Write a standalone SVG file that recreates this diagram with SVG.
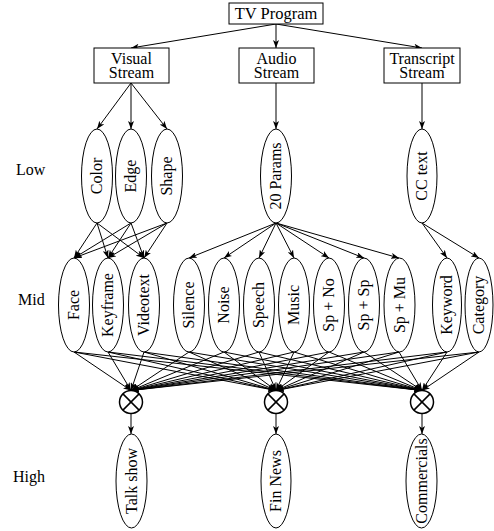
<svg xmlns="http://www.w3.org/2000/svg" width="494" height="531" viewBox="0 0 494 531">
<style>
text{font-family:"Liberation Serif","Times New Roman",serif;font-size:16px;fill:#000}
.t{text-anchor:middle}
.box{fill:#fff;stroke:#000;stroke-width:1}
.el{fill:#fff;stroke:#000;stroke-width:1}
.e{stroke:#000;stroke-width:1;fill:none;marker-end:url(#ah)}
.c{fill:#fff;stroke:#000;stroke-width:1.5}
.x{stroke:#000;stroke-width:1.5}
</style>
<defs>
<marker id="ah" viewBox="0 0 8 6" refX="8" refY="3" markerWidth="8" markerHeight="6" orient="auto" markerUnits="userSpaceOnUse">
<path d="M0,0 L8,3 L0,6 L2,3 z" fill="#000"/>
</marker>
</defs>
<rect width="494" height="531" fill="#fff"/>

<g id="connectors">
<line class="e" x1="276" y1="24" x2="131" y2="48"/>
<line class="e" x1="276" y1="24" x2="276" y2="48"/>
<line class="e" x1="276" y1="24" x2="422" y2="48"/>
<line class="e" x1="131" y1="83" x2="97" y2="129"/>
<line class="e" x1="131" y1="83" x2="131" y2="129"/>
<line class="e" x1="131" y1="83" x2="167" y2="129"/>
<line class="e" x1="276" y1="83" x2="276" y2="129"/>
<line class="e" x1="422" y1="83" x2="422" y2="129"/>
<line class="e" x1="97" y1="223" x2="74" y2="258"/>
<line class="e" x1="97" y1="223" x2="108" y2="258"/>
<line class="e" x1="97" y1="223" x2="144" y2="258"/>
<line class="e" x1="131" y1="223" x2="74" y2="258"/>
<line class="e" x1="131" y1="223" x2="108" y2="258"/>
<line class="e" x1="131" y1="223" x2="144" y2="258"/>
<line class="e" x1="167" y1="223" x2="74" y2="258"/>
<line class="e" x1="167" y1="223" x2="108" y2="258"/>
<line class="e" x1="167" y1="223" x2="144" y2="258"/>
<line class="e" x1="276" y1="223" x2="189" y2="258"/>
<line class="e" x1="276" y1="223" x2="224" y2="258"/>
<line class="e" x1="276" y1="223" x2="259" y2="258"/>
<line class="e" x1="276" y1="223" x2="294" y2="258"/>
<line class="e" x1="276" y1="223" x2="329" y2="258"/>
<line class="e" x1="276" y1="223" x2="364" y2="258"/>
<line class="e" x1="276" y1="223" x2="399" y2="258"/>
<line class="e" x1="422" y1="223" x2="447" y2="258"/>
<line class="e" x1="422" y1="223" x2="479" y2="258"/>
<line class="e" x1="74" y1="352" x2="131" y2="390.5"/>
<line class="e" x1="74" y1="352" x2="276" y2="390.5"/>
<line class="e" x1="74" y1="352" x2="422" y2="390.5"/>
<line class="e" x1="108" y1="352" x2="131" y2="390.5"/>
<line class="e" x1="108" y1="352" x2="276" y2="390.5"/>
<line class="e" x1="108" y1="352" x2="422" y2="390.5"/>
<line class="e" x1="144" y1="352" x2="131" y2="390.5"/>
<line class="e" x1="144" y1="352" x2="276" y2="390.5"/>
<line class="e" x1="144" y1="352" x2="422" y2="390.5"/>
<line class="e" x1="189" y1="352" x2="131" y2="390.5"/>
<line class="e" x1="189" y1="352" x2="276" y2="390.5"/>
<line class="e" x1="189" y1="352" x2="422" y2="390.5"/>
<line class="e" x1="224" y1="352" x2="131" y2="390.5"/>
<line class="e" x1="224" y1="352" x2="276" y2="390.5"/>
<line class="e" x1="224" y1="352" x2="422" y2="390.5"/>
<line class="e" x1="259" y1="352" x2="131" y2="390.5"/>
<line class="e" x1="259" y1="352" x2="276" y2="390.5"/>
<line class="e" x1="259" y1="352" x2="422" y2="390.5"/>
<line class="e" x1="294" y1="352" x2="131" y2="390.5"/>
<line class="e" x1="294" y1="352" x2="276" y2="390.5"/>
<line class="e" x1="294" y1="352" x2="422" y2="390.5"/>
<line class="e" x1="329" y1="352" x2="131" y2="390.5"/>
<line class="e" x1="329" y1="352" x2="276" y2="390.5"/>
<line class="e" x1="329" y1="352" x2="422" y2="390.5"/>
<line class="e" x1="364" y1="352" x2="131" y2="390.5"/>
<line class="e" x1="364" y1="352" x2="276" y2="390.5"/>
<line class="e" x1="364" y1="352" x2="422" y2="390.5"/>
<line class="e" x1="399" y1="352" x2="131" y2="390.5"/>
<line class="e" x1="399" y1="352" x2="276" y2="390.5"/>
<line class="e" x1="399" y1="352" x2="422" y2="390.5"/>
<line class="e" x1="447" y1="352" x2="131" y2="390.5"/>
<line class="e" x1="447" y1="352" x2="276" y2="390.5"/>
<line class="e" x1="447" y1="352" x2="422" y2="390.5"/>
<line class="e" x1="479" y1="352" x2="131" y2="390.5"/>
<line class="e" x1="479" y1="352" x2="276" y2="390.5"/>
<line class="e" x1="479" y1="352" x2="422" y2="390.5"/>
<line class="e" x1="131" y1="413.5" x2="131" y2="434"/>
<line class="e" x1="276" y1="413.5" x2="276" y2="434"/>
<line class="e" x1="422" y1="413.5" x2="422" y2="434"/>
</g>

<g id="levels">
<text x="16" y="175">Low</text>
<text x="18" y="305">Mid</text>
<text x="13" y="482">High</text>
</g>

<g id="tv-program"><rect class="box" x="229" y="3" width="94" height="21"/><text class="t" x="276" y="18.5" style="font-size:16.5px">TV Program</text></g>
<g id="visual-stream"><rect class="box" x="94" y="48" width="75" height="35"/><text class="t" x="131.5" y="63.5">Visual</text><text class="t" x="131.5" y="78">Stream</text></g>
<g id="audio-stream"><rect class="box" x="239" y="48" width="75" height="35"/><text class="t" x="276.5" y="63.5">Audio</text><text class="t" x="276.5" y="78">Stream</text></g>
<g id="transcript-stream"><rect class="box" x="384" y="48" width="76" height="35"/><text class="t" x="422" y="63.5">Transcript</text><text class="t" x="422" y="78">Stream</text></g>

<g id="color"><ellipse class="el" cx="97" cy="176" rx="15.5" ry="47"/><text class="t" transform="translate(97,176) rotate(-90)" dy="0.32em">Color</text></g>
<g id="edge"><ellipse class="el" cx="131" cy="176" rx="15.5" ry="47"/><text class="t" transform="translate(131,176) rotate(-90)" dy="0.32em">Edge</text></g>
<g id="shape"><ellipse class="el" cx="167" cy="176" rx="15.5" ry="47"/><text class="t" transform="translate(167,176) rotate(-90)" dy="0.32em">Shape</text></g>
<g id="params"><ellipse class="el" cx="276" cy="176" rx="15.5" ry="47"/><text class="t" transform="translate(276,176) rotate(-90)" dy="0.32em">20 Params</text></g>
<g id="cc-text"><ellipse class="el" cx="422" cy="176" rx="15" ry="47"/><text class="t" transform="translate(422,176) rotate(-90)" dy="0.32em">CC text</text></g>

<g id="face"><ellipse class="el" cx="74" cy="305" rx="15.5" ry="47"/><text class="t" transform="translate(74,305) rotate(-90)" dy="0.32em">Face</text></g>
<g id="keyframe"><ellipse class="el" cx="108" cy="305" rx="15.5" ry="47"/><text class="t" transform="translate(108,305) rotate(-90)" dy="0.32em">Keyframe</text></g>
<g id="videotext"><ellipse class="el" cx="144" cy="305" rx="15.5" ry="47"/><text class="t" transform="translate(144,305) rotate(-90)" dy="0.32em">Videotext</text></g>
<g id="silence"><ellipse class="el" cx="189" cy="305" rx="15.5" ry="47"/><text class="t" transform="translate(189,305) rotate(-90)" dy="0.32em">Silence</text></g>
<g id="noise"><ellipse class="el" cx="224" cy="305" rx="15.5" ry="47"/><text class="t" transform="translate(224,305) rotate(-90)" dy="0.32em">Noise</text></g>
<g id="speech"><ellipse class="el" cx="259" cy="305" rx="15.5" ry="47"/><text class="t" transform="translate(259,305) rotate(-90)" dy="0.32em">Speech</text></g>
<g id="music"><ellipse class="el" cx="294" cy="305" rx="15.5" ry="47"/><text class="t" transform="translate(294,305) rotate(-90)" dy="0.32em">Music</text></g>
<g id="sp-no"><ellipse class="el" cx="329" cy="305" rx="15.5" ry="47"/><text class="t" transform="translate(329,305) rotate(-90)" dy="0.32em">Sp + No</text></g>
<g id="sp-sp"><ellipse class="el" cx="364" cy="305" rx="15.5" ry="47"/><text class="t" transform="translate(364,305) rotate(-90)" dy="0.32em">Sp + Sp</text></g>
<g id="sp-mu"><ellipse class="el" cx="399.5" cy="305" rx="15.5" ry="47"/><text class="t" transform="translate(399.5,305) rotate(-90)" dy="0.32em">Sp + Mu</text></g>
<g id="keyword"><ellipse class="el" cx="447" cy="305" rx="14.5" ry="47"/><text class="t" transform="translate(447,305) rotate(-90)" dy="0.32em">Keyword</text></g>
<g id="category"><ellipse class="el" cx="479" cy="305" rx="14" ry="47"/><text class="t" transform="translate(479,305) rotate(-90)" dy="0.32em">Category</text></g>

<g id="comb-1"><circle class="c" cx="131" cy="402" r="11.5"/><line class="x" x1="122.9" y1="393.9" x2="139.1" y2="410.1"/><line class="x" x1="139.1" y1="393.9" x2="122.9" y2="410.1"/></g>
<g id="comb-2"><circle class="c" cx="276" cy="402" r="11.5"/><line class="x" x1="267.9" y1="393.9" x2="284.1" y2="410.1"/><line class="x" x1="284.1" y1="393.9" x2="267.9" y2="410.1"/></g>
<g id="comb-3"><circle class="c" cx="422" cy="402" r="11.5"/><line class="x" x1="413.9" y1="393.9" x2="430.1" y2="410.1"/><line class="x" x1="430.1" y1="393.9" x2="413.9" y2="410.1"/></g>

<g id="talk-show"><ellipse class="el" cx="131.5" cy="481" rx="15.5" ry="47"/><text class="t" transform="translate(131.5,481) rotate(-90)" dy="0.32em">Talk show</text></g>
<g id="fin-news"><ellipse class="el" cx="276" cy="481" rx="15" ry="47"/><text class="t" transform="translate(276,481) rotate(-90)" dy="0.32em">Fin News</text></g>
<g id="commercials"><ellipse class="el" cx="421.5" cy="481" rx="15.5" ry="47"/><text class="t" transform="translate(421.5,481) rotate(-90)" dy="0.32em">Commercials</text></g>
</svg>
